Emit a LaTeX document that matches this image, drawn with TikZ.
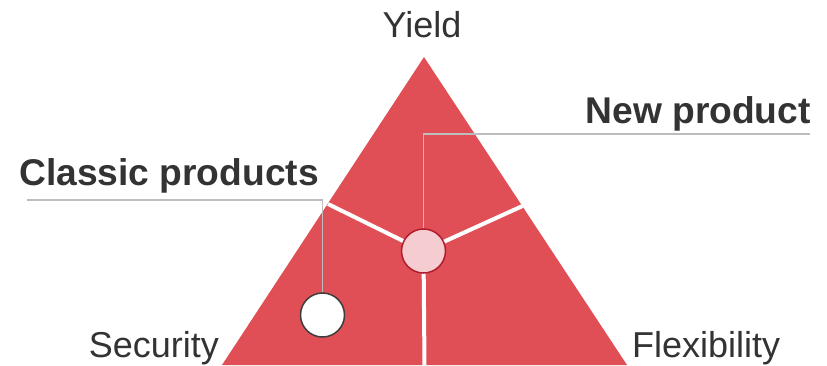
\documentclass[tikz,border=0pt]{standalone}
\usepackage{fontspec}
\setmainfont{Liberation Sans}
\usepackage{xcolor}
\usetikzlibrary{positioning}
\definecolor{wedgered}{HTML}{E04F55}
\definecolor{hubfill}{HTML}{F5CDD1}
\definecolor{hubline}{HTML}{B01C2E}
\definecolor{leadgray}{HTML}{BDBDBD}
\definecolor{textgray}{HTML}{333333}

\begin{document}
\begin{tikzpicture}[x=1pt,y=-1pt,
		corner/.style={font=\fontsize{36}{40}\selectfont,text=textgray,inner sep=0pt},
		callout/.style={font=\fontsize{37.2}{40}\selectfont\bfseries,text=textgray,inner sep=0pt},
		spoke/.style={white,line width=4pt},
		leader/.style={leadgray,line width=1.3pt},
		dot/.style={circle,minimum size=44pt,inner sep=0pt,line width=1.5pt}]
		\useasboundingbox (0,0) rectangle (827,365);
		% triangle
		\coordinate (T) at (424,57);
		\coordinate (L) at (222,365);
		\coordinate (R) at (627,365);
		\fill[wedgered] (T) -- (L) -- (R) -- cycle;
		%
		\coordinate (c) at (423.5,251);
		\coordinate (eL) at (328,204);
		\coordinate (eR) at (522.5,206);
		\coordinate (eB) at (424.5,366);
		\draw[spoke] (c) -- (eL);
		\draw[spoke] (c) -- (eR);
		\draw[spoke] (c) -- (eB);
		%
		\node[dot,draw=hubline,fill=hubfill] (hub) at (c) {};
		\node[dot,draw=textgray!95,fill=white] (classic) at (322.5,315) {};
		% labels
		\node[corner,anchor=base] (yield) at (422,37) {Yield};
		\node[corner,anchor=base east] (security) at (219,357) {Security};
		\node[corner,anchor=base west] (flex) at (632,357) {Flexibility};
		\node[callout,anchor=base east] (newlbl) at (811,123) {New product};
		\node[callout,anchor=base west] (classiclbl) at (19,185) {Classic products};
		% leader lines
		\coordinate (newend) at (810,134);
		\coordinate (classicend) at (27,200);
		\draw[leader] (newend) -| (hub.north);
		\draw[leader] (classicend) -| (classic.north);
	\end{tikzpicture}
\end{document}
